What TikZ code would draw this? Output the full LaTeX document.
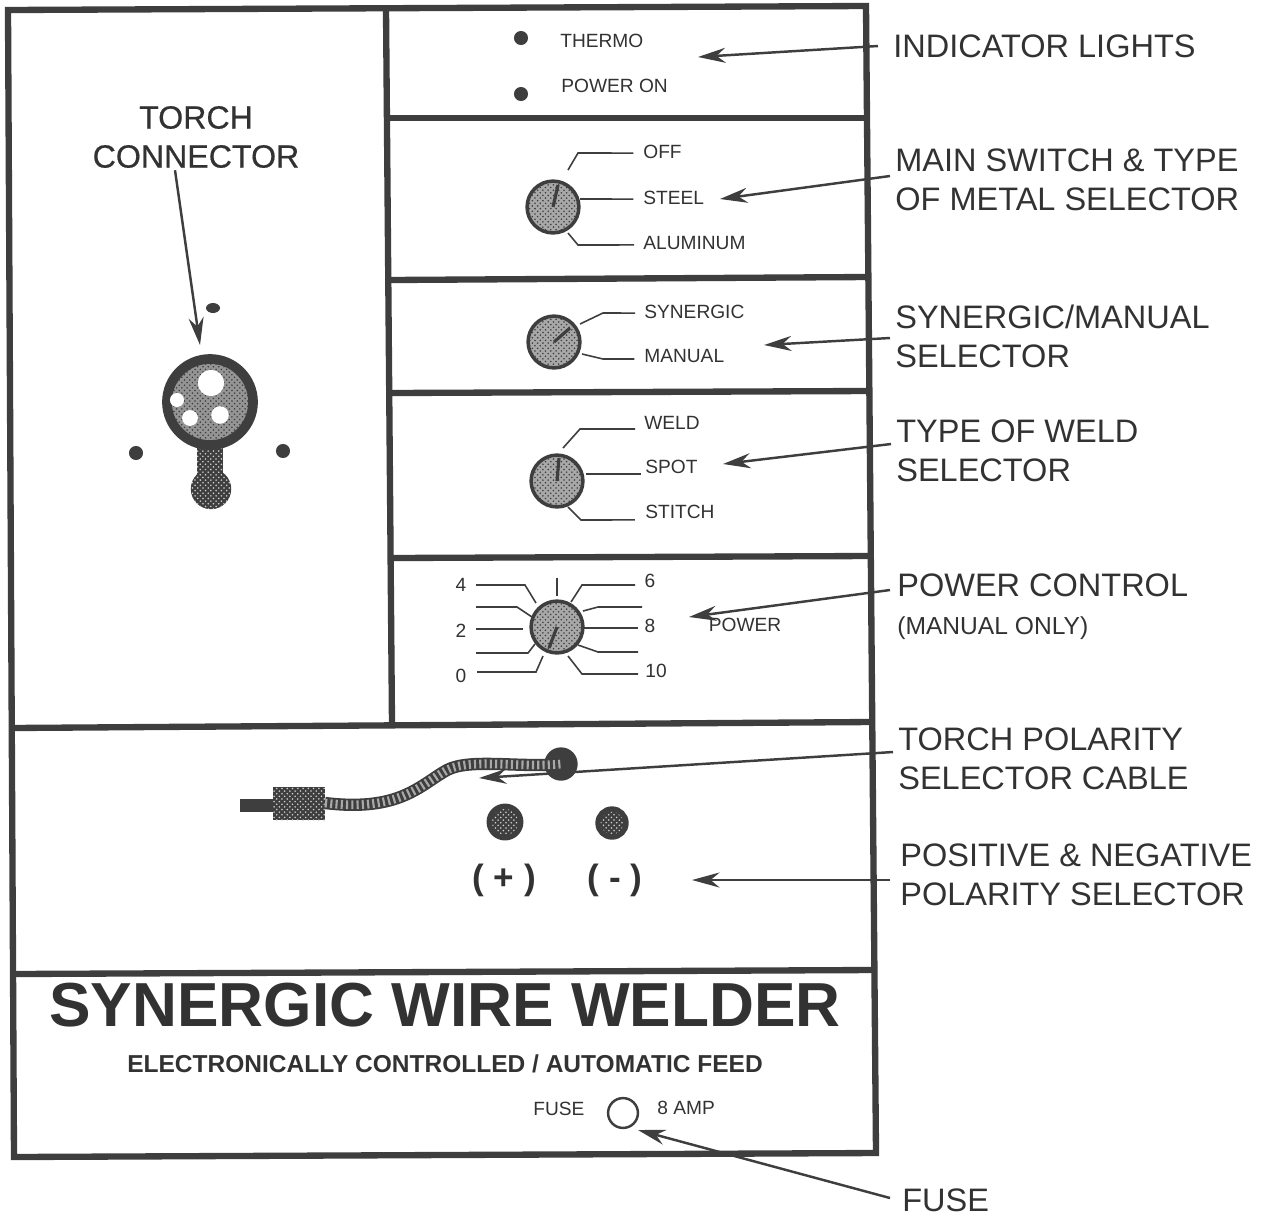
\documentclass[tikz,border=0pt]{standalone}
\usepackage{fontspec}
\setmainfont{Liberation Sans}
\newfontfamily\heavyfont[FakeBold=0.5]{Liberation Sans}
\usetikzlibrary{arrows.meta,patterns}
\definecolor{inkgray}{RGB}{62,62,62}
\definecolor{textgray}{RGB}{50,50,50}
\tikzset{
    panel/.style={draw=inkgray, line width=3.6pt, line join=miter},
    arrow/.style={-{Stealth[length=5.5mm,width=3mm]}, draw=inkgray, line width=1.4pt},
    leader/.style={draw=inkgray, line width=0.9pt},
    needle/.style={draw=inkgray, line width=1.8pt},
    callout/.style={anchor=west, align=left, inner sep=0pt, font=\fontsize{18.5}{22.2}\selectfont, text=textgray},
    small/.style={inner sep=0pt, font=\fontsize{10.9}{13}\selectfont, text=textgray},
    knob/.style={circle, draw=inkgray, line width=2pt, preaction={fill=inkgray!45}, pattern=crosshatch dots, pattern color=inkgray, minimum size=29.5pt, inner sep=0pt},
    dot/.style={circle, fill=inkgray, minimum size=8pt, inner sep=0pt},
    darkstipple/.style={preaction={fill=inkgray}, pattern=crosshatch dots, pattern color=white!75!inkgray},
    jack/.style={circle, draw=inkgray, line width=3pt, darkstipple, inner sep=0pt},
    hole/.style={circle, fill=white, inner sep=0pt}
}
\begin{document}
\begin{tikzpicture}[x=0.02cm, y=-0.02cm]
\useasboundingbox (0,0) rectangle (1267,1218);
% Front panel
\draw[panel] (8,10) -- (866,6) -- (876,1153) -- (14,1157) -- cycle;
\draw[panel] (386,9) -- (392,725);
\draw[panel] (389,118) -- (868,118);
\draw[panel] (390,280) -- (868,277);
\draw[panel] (390,393) -- (869,391);
\draw[panel] (391,558) -- (870,556);
\draw[panel] (11,728) -- (871,722);
\draw[panel] (13,974) -- (873,970);

% Indicator lights
\node[dot] (thermodot) at (521,38) {};
\node[dot] (powerdot) at (521,94) {};
\node[small, anchor=west] (thermo) at (560,41) {THERMO};
\node[small, anchor=west] (poweron) at (561,86) {POWER ON};

% Main switch
\node[knob] (mainknob) at (553,207) {};
\node[small, anchor=west] (off) at (643,152) {OFF};
\node[small, anchor=west] (steel) at (643,198) {STEEL};
\node[small, anchor=west] (aluminum) at (643,243) {ALUMINUM};
\coordinate (mainneedle) at (558,185);
\draw[needle] (mainknob.center) -- (mainneedle);
\draw[leader] (568,170) -- (578,153) -- ([xshift=-5.5pt,yshift=-.6pt]off.west);
\draw[leader] (580,199) -- ([xshift=-5.5pt,yshift=-.6pt]steel.west);
\draw[leader] (568,233) -- (578,245) -- ([xshift=-5pt,yshift=-1.1pt]aluminum.west);

% Synergic / manual
\node[knob] (synknob) at (554,342) {};
\node[small, anchor=west] (synergic) at (644,312) {SYNERGIC};
\node[small, anchor=west] (manual) at (644,356) {MANUAL};
\coordinate (synneedle) at (570,328);
\draw[needle] (synknob.center) -- (synneedle);
\draw[leader] (580,324) -- (603,313) -- ([xshift=-5pt,yshift=-.6pt]synergic.west);
\draw[leader] (582,354) -- (603,359) -- ([xshift=-5.5pt,yshift=-1.7pt]manual.west);

% Type of weld
\node[knob] (weldknob) at (557,481) {};
\node[small, anchor=west] (weld) at (644,423) {WELD};
\node[small, anchor=west] (spot) at (645,467) {SPOT};
\node[small, anchor=west] (stitch) at (645,512) {STITCH};
\coordinate (weldneedle) at (559,458);
\draw[needle] (weldknob.center) -- (weldneedle);
\draw[leader] (563,448) -- (580,429) -- ([xshift=-5pt,yshift=-3.4pt]weld.west);
\draw[leader] (586,474) -- ([xshift=-2.3pt,yshift=-4pt]spot.west);
\draw[leader] (568,507) -- (581,520) -- ([xshift=-5.7pt,yshift=-4.5pt]stitch.west);

% Power control
\node[knob] (powerknob) at (557,627) {};
\node[small] (p4) at (461,585) {4};
\node[small] (p2) at (461,631) {2};
\node[small] (p0) at (461,676) {0};
\node[small] (p6) at (650,581) {6};
\node[small] (p8) at (650,626) {8};
\node[small] (p10) at (656,671) {10};
\node[small] (powerlabel) at (745,625) {POWER};
\coordinate (powerneedle) at (549,648);
\draw[needle] (powerknob.center) -- (powerneedle);
\draw[leader] (557,578) -- (557,596);
\draw[leader] (571,602) -- (582,585) -- (635,585);
\draw[leader] (583,611) -- (598,607) -- (642,607);
\draw[leader] (583,628) -- (638,628);
\draw[leader] (578,645) -- (598,652) -- (638,652);
\draw[leader] (568,656) -- (582,674) -- (638,674);
\draw[leader] (476,585) -- (525,585) -- (536,603);
\draw[leader] (476,607) -- (517,607) -- (532,617);
\draw[leader] (476,629) -- (523,629);
\draw[leader] (476,653) -- (528,653) -- (535,644);
\draw[leader] (477,672) -- (536,672) -- (543,656);

% Torch connector
\path[darkstipple] (197,445) rectangle (223,478);
\node[circle, draw=inkgray, line width=5.5pt, preaction={fill=inkgray!55}, pattern=crosshatch dots, pattern color=inkgray, minimum size=49pt, inner sep=0pt] (torch) at (210,402) {};
\node[hole, minimum size=15pt] (hole1) at (211,383) {};
\node[hole, minimum size=8pt] (hole2) at (177,400) {};
\node[hole, minimum size=9pt] (hole3) at (190,418) {};
\node[hole, minimum size=10pt] (hole4) at (220,415) {};
\node[circle, darkstipple, minimum size=23pt, inner sep=0pt] (torchball) at (211,489) {};
\node[dot] (leftdot) at (136,453) {};
\node[dot] (rightdot) at (283,451) {};
\fill[inkgray] (213,308) ellipse (7 and 5);

% Polarity cable
\node[circle, fill=inkgray, minimum size=19pt, inner sep=0pt] (terminal) at (561,764) {};
\fill[inkgray] (240,799) rectangle (273,812);
\path[darkstipple] (273,787) rectangle (325,820);
\draw[inkgray, line width=7pt] (325,803) .. controls (400,812) and (420,785) .. (447,770) .. controls (470,758) and (520,768) .. (terminal.center);
\draw[white!55!inkgray, line width=5pt, dash pattern=on 1.2pt off 1.8pt] (325,803) .. controls (400,812) and (420,785) .. (447,770) .. controls (470,758) and (520,768) .. (terminal.center);
\node[jack, minimum size=18pt] (plus) at (505,822) {};
\node[jack, minimum size=16pt] (minus) at (612,823) {};
\node[text=textgray, inner sep=0pt, font=\fontsize{20}{24}\selectfont\bfseries] (pluslabel) at (504,880) {( + )};
\node[text=textgray, inner sep=0pt, font=\fontsize{20}{24}\selectfont\bfseries] (minuslabel) at (615,880) {( - )};

% Title block
\node[inner sep=0pt, text=textgray, font=\fontsize{35.4}{40}\selectfont\bfseries] (title) at (445,1005) {SYNERGIC WIRE WELDER};
\node[inner sep=0pt, text=textgray, font=\fontsize{13.95}{16}\selectfont\bfseries] (subtitle) at (445,1064) {ELECTRONICALLY CONTROLLED / AUTOMATIC FEED};
\node[small, anchor=west] (fusetext) at (533,1109) {FUSE};
\node[circle, draw=inkgray, line width=1.4pt, minimum size=17pt, inner sep=0pt] (fuseholder) at (623,1113) {};
\node[small, anchor=west] (amp) at (657,1108) {8 AMP};

% Callouts
\node[inner sep=0pt, align=center, text=textgray, font=\fontsize{18.3}{22.2}\heavyfont] (torchlabel) at (196,137) {TORCH\\CONNECTOR};
\node[callout] (lights) at (893,46) {INDICATOR LIGHTS};
\node[callout] (mainlabel) at (895,180) {MAIN SWITCH \& TYPE\\OF METAL SELECTOR};
\node[callout] (synlabel) at (895,336) {SYNERGIC/MANUAL\\SELECTOR};
\node[callout] (weldlabel) at (896,451) {TYPE OF WELD\\SELECTOR};
\node[callout] (powerctl) at (897,585) {POWER CONTROL};
\node[small, anchor=west, font=\fontsize{14}{16}\selectfont] (manualonly) at (897,628) {(MANUAL ONLY)};
\node[callout] (cablelabel) at (898,759) {TORCH POLARITY\\SELECTOR CABLE};
\node[callout] (polarity) at (900,875) {POSITIVE \& NEGATIVE\\POLARITY SELECTOR};
\node[callout] (fuselabel) at (902,1200) {FUSE};

\coordinate (torchtip) at (200,345);
\coordinate (lightstip) at (698,57);
\coordinate (maintip) at (720,199);
\coordinate (syntip) at (764,345);
\coordinate (weldtip) at (723,464);
\coordinate (powertip) at (689,617);
\coordinate (cabletip) at (479,778);
\coordinate (polaritytip) at (692,880);
\coordinate (fusetip) at (638,1130);

\draw[arrow] (torchlabel.south) ++(-21,2) -- (torchtip);
\draw[arrow] (lights.west) ++(-15,0) -- (lightstip);
\draw[arrow] (mainlabel.west) ++(-5,-4) -- (maintip);
\draw[arrow] (synlabel.west) ++(-5,2) -- (syntip);
\draw[arrow] (weldlabel.west) ++(-5,-7) -- (weldtip);
\draw[arrow] (powerctl.west) ++(-7,5) -- (powertip);
\draw[arrow] (cablelabel.west) ++(-5,-7) -- (cabletip);
\draw[arrow] (polarity.west) ++(-10,5) -- (polaritytip);
\draw[arrow] (fuselabel.west) ++(-12,-2) -- (fusetip);
\end{tikzpicture}
\end{document}
